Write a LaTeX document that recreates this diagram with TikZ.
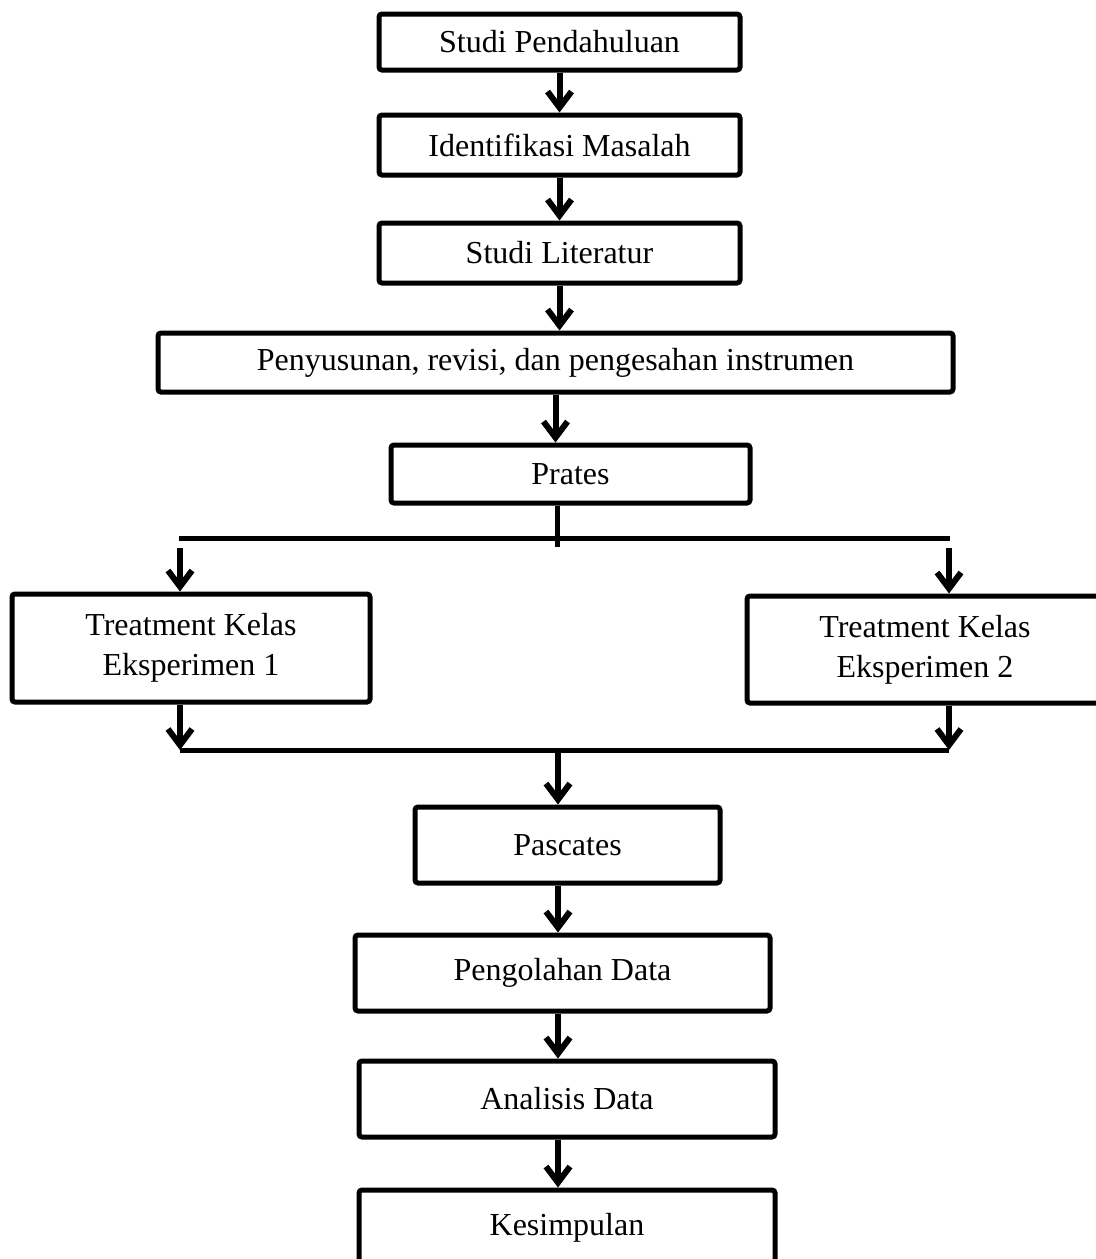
\documentclass[tikz,border=0pt]{standalone}
\usepackage{fontspec}
\setmainfont{Liberation Serif}
\usetikzlibrary{arrows.meta}

\begin{document}
\begin{tikzpicture}[
x=0.5pt, y=-0.5pt,
flowbox/.style={rectangle, draw=black, line width=2.5pt, rounded corners=1.5pt, fill=white, inner sep=2pt, align=center, font=\fontsize{16}{20}\selectfont},
flowline/.style={line width=2.5pt},
flowarrow/.style={line width=3pt, -{Straight Barb[length=8pt, width=12pt]}}
]
    \useasboundingbox (0,0) rectangle (1096,1259);

    \node[flowbox, minimum width=180.5pt, minimum height=28pt] (studi) at (559.5,42) {Studi Pendahuluan};
    \node[flowbox, minimum width=180.5pt, minimum height=30pt] (ident) at (559.5,145) {Identifikasi Masalah};
    \node[flowbox, minimum width=180.5pt, minimum height=30pt] (lit) at (559.5,253) {Studi Literatur};
    \node[flowbox, minimum width=397.5pt, minimum height=29.5pt] (susun) at (555.5,362.5) {Penyusunan, revisi, dan pengesahan instrumen};
    \node[flowbox, minimum width=179.5pt, minimum height=29pt] (prates) at (570.5,474) {Prates};

    \node[flowbox, minimum width=179pt, minimum height=54pt] (treat1) at (191,648) {Treatment Kelas\\Eksperimen 1};
    \node[flowbox, minimum width=178pt, minimum height=53.5pt] (treat2) at (925,649.5) {Treatment Kelas\\Eksperimen 2};

    \node[flowbox, minimum width=152.5pt, minimum height=38pt] (pascates) at (567.5,845) {Pascates};
    \node[flowbox, minimum width=207.5pt, minimum height=38pt] (olah) at (562.5,973) {Pengolahan Data};
    \node[flowbox, minimum width=208pt, minimum height=38pt] (analisis) at (567,1099) {Analisis Data};
    \node[flowbox, minimum width=208pt, minimum height=38pt] (simpul) at (567,1228) {Kesimpulan};

    \coordinate (forkstem) at (557,547);
    \coordinate (forkleft) at (179,538);
    \coordinate (forkright) at (950,538);
    \coordinate (dropleft) at (180,548);
    \coordinate (dropright) at (949,548);
    \coordinate (joinleft) at (180,750);
    \coordinate (joinright) at (949,750);
    \coordinate (joinstem) at (558,750);

    \draw[flowarrow] (studi.south) -- (ident.north);
    \draw[flowarrow] (ident.south) -- (lit.north);
    \draw[flowarrow] (lit.south) -- (lit.south |- susun.north);
    \draw[flowarrow] (susun.south) -- (susun.south |- prates.north);

    \draw[flowline] (prates.south -| forkstem) -- (forkstem);
    \draw[flowline] (forkleft) -- (forkright);
    \draw[flowarrow] (dropleft) -- (dropleft |- treat1.north);
    \draw[flowarrow] (dropright) -- (dropright |- treat2.north);

    \draw[flowarrow] (treat1.south -| joinleft) -- (joinleft);
    \draw[flowarrow] (treat2.south -| joinright) -- (joinright);
    \draw[flowline] (joinleft) -- (joinright);
    \draw[flowarrow] (joinstem) -- (joinstem |- pascates.north);

    \draw[flowarrow] (pascates.south -| joinstem) -- (joinstem |- olah.north);
    \draw[flowarrow] (olah.south -| joinstem) -- (joinstem |- analisis.north);
    \draw[flowarrow] (analisis.south -| joinstem) -- (joinstem |- simpul.north);
\end{tikzpicture}
\end{document}
